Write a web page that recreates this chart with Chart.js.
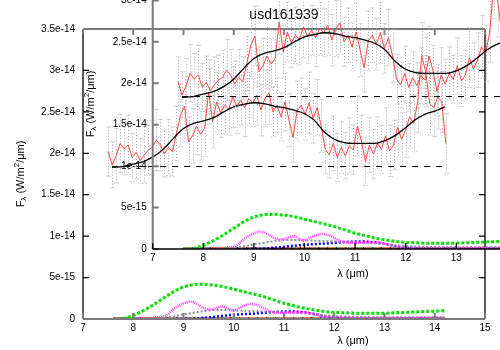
<!DOCTYPE html>
<html>
<head>
<meta charset="utf-8">
<script src="https://cdn.jsdelivr.net/npm/chart.js@4.4.0/dist/chart.umd.min.js"></script>
<style>
  html, body { margin: 0; padding: 0; background: #fff; }
  #wrap { position: relative; width: 500px; height: 350px; overflow: hidden; background: #fff; }
  #outer { position: absolute; left: 0; top: 0; }
  #inner { position: absolute; left: 0; top: -60px; }
</style>
</head>
<body>
<div id="wrap">
  <canvas id="outer" width="500" height="350"></canvas>
  <canvas id="inner" width="600" height="420"></canvas>
</div>
<script>
// flux values are in units of 1e-14 W/m2/um
const specLambda = [
  7.50, 7.58, 7.66, 7.74, 7.82, 7.90, 7.98, 8.06, 8.14, 8.22,
  8.30, 8.38, 8.46, 8.54, 8.62, 8.70, 8.78, 8.86, 8.94, 9.02,
  9.10, 9.18, 9.26, 9.34, 9.42, 9.50, 9.58, 9.66, 9.74, 9.82,
  9.90, 9.98, 10.06, 10.14, 10.22, 10.30, 10.38, 10.46, 10.54, 10.62,
  10.70, 10.78, 10.86, 10.94, 11.02, 11.10, 11.18, 11.26, 11.34, 11.42,
  11.50, 11.58, 11.66, 11.74, 11.82, 11.90, 11.98, 12.06, 12.14, 12.22,
  12.30, 12.38, 12.46, 12.54, 12.62, 12.70, 12.78, 12.86, 12.94, 13.02,
  13.10, 13.18, 13.26, 13.34, 13.42, 13.50, 13.58, 13.66, 13.74, 13.82,
  13.90, 13.98, 14.06, 14.14, 14.22
];
const flux = [
  2.02, 1.86, 1.97, 2.12, 2.05, 2.10, 1.95, 2.01, 1.91, 1.98,
  2.04, 2.07, 2.16, 2.10, 1.99, 2.07, 2.02, 2.24, 2.46, 2.57,
  2.14, 2.21, 2.33, 2.23, 2.30, 2.74, 2.38, 2.62, 2.49, 2.58,
  2.53, 2.68, 2.57, 2.64, 2.55, 2.66, 2.61, 2.70, 2.52, 2.66,
  2.73, 2.50, 2.58, 2.44, 2.62, 2.40, 2.19, 2.51, 2.58, 2.47,
  2.61, 2.42, 2.55, 2.33, 2.05, 1.98, 2.12, 1.95, 2.07, 1.97,
  2.09, 2.04, 2.33, 2.15, 1.90, 2.10, 1.99, 2.12, 2.05, 2.21,
  2.03, 2.10, 2.31, 2.17, 2.28, 2.44, 2.36, 2.62, 3.18, 2.98,
  2.60, 2.55, 2.68, 2.62, 2.12
];
const fluxErr = [
  0.30, 0.28, 0.33, 0.35, 0.31, 0.36, 0.29, 0.32, 0.27, 0.34,
  0.30, 0.33, 0.37, 0.31, 0.28, 0.34, 0.30, 0.33, 0.38, 0.36,
  0.30, 0.33, 0.35, 0.31, 0.34, 0.39, 0.32, 0.36, 0.30, 0.34,
  0.31, 0.37, 0.33, 0.30, 0.35, 0.32, 0.29, 0.36, 0.31, 0.34,
  0.38, 0.30, 0.33, 0.29, 0.35, 0.32, 0.30, 0.36, 0.33, 0.31,
  0.37, 0.30, 0.34, 0.32, 0.30, 0.28, 0.33, 0.29, 0.31, 0.28,
  0.34, 0.30, 0.36, 0.31, 0.29, 0.33, 0.30, 0.32, 0.29, 0.34,
  0.31, 0.30, 0.36, 0.32, 0.33, 0.38, 0.34, 0.37, 0.40, 0.42,
  0.38, 0.35, 0.39, 0.37, 0.36
];

const fitLambda = [
  7.58, 7.8, 8.0, 8.2, 8.4, 8.6, 8.8, 9.0, 9.2, 9.4, 9.6, 9.8,
  10.0, 10.2, 10.4, 10.6, 10.8, 11.0, 11.2, 11.4, 11.6, 11.8,
  12.0, 12.2, 12.4, 12.6, 12.8, 13.0, 13.2, 13.4, 13.6, 13.8, 14.0, 14.2
];
const fitFlux = [
  1.83, 1.84, 1.87, 1.90, 1.96, 2.05, 2.18, 2.30, 2.36, 2.39, 2.43, 2.50,
  2.56, 2.59, 2.61, 2.60, 2.57, 2.55, 2.52, 2.48, 2.40, 2.26,
  2.17, 2.13, 2.12, 2.12, 2.12, 2.15, 2.21, 2.30, 2.40, 2.47, 2.51, 2.56
];

const contLambda = [7.58, 14.2];
const contFlux = [1.84, 1.84];

const compLambda = [
  7.6, 7.8, 8.0, 8.2, 8.4, 8.6, 8.8, 9.0, 9.2, 9.4, 9.6, 9.8,
  10.0, 10.2, 10.4, 10.6, 10.8, 11.0, 11.2, 11.4, 11.6, 11.8,
  12.0, 12.2, 12.4, 12.6, 12.8, 13.0, 13.2, 13.4, 13.6, 13.8, 14.0, 14.2
];
const greenComp = [
  0.0, 0.005, 0.04, 0.10, 0.17, 0.25, 0.33, 0.39, 0.415, 0.42, 0.41, 0.39,
  0.36, 0.33, 0.30, 0.27, 0.23, 0.19, 0.16, 0.13, 0.11, 0.09,
  0.08, 0.075, 0.07, 0.07, 0.07, 0.07, 0.075, 0.08, 0.085, 0.09, 0.095, 0.10
];
const grayComp = [
  0.005, 0.005, 0.005, 0.005, 0.008, 0.015, 0.03, 0.055, 0.075, 0.095, 0.11, 0.11,
  0.105, 0.10, 0.095, 0.09, 0.085, 0.08, 0.075, 0.07, 0.055, 0.045,
  0.035, 0.03, 0.025, 0.025, 0.02, 0.02, 0.02, 0.02, 0.02, 0.02, 0.02, 0.02
];
const blueComp = [
  0, 0, 0, 0, 0, 0, 0, 0.002, 0.005, 0.015, 0.025, 0.04,
  0.05, 0.06, 0.065, 0.075, 0.085, 0.09, 0.09, 0.08, 0.06, 0.035,
  0.02, 0.012, 0.01, 0.01, 0.01, 0.01, 0.01, 0.01, 0.01, 0.01, 0.01, 0.01
];
const magLambda = [
  7.6, 8.0, 8.4, 8.6, 8.7, 8.8, 8.9, 9.0, 9.1, 9.2, 9.3, 9.4, 9.5,
  9.6, 9.7, 9.8, 9.9, 10.0, 10.1, 10.2, 10.3, 10.4, 10.5, 10.6, 10.7,
  10.8, 10.9, 11.0, 11.2, 11.4, 11.5, 11.6, 11.7, 11.8, 12.0, 12.5, 13.0, 13.5, 14.2
];
const magComp = [
  0.01, 0.01, 0.012, 0.03, 0.06, 0.12, 0.16, 0.19, 0.21, 0.205, 0.17, 0.13, 0.115,
  0.12, 0.14, 0.155, 0.12, 0.10, 0.13, 0.16, 0.18, 0.18, 0.16, 0.13, 0.10,
  0.08, 0.075, 0.075, 0.08, 0.085, 0.075, 0.06, 0.04, 0.025, 0.015, 0.012, 0.012, 0.012, 0.015
];
const baseLambda = [7.6, 14.2];
const orangeComp = [0.004, 0.004];
const cyanComp = [0.003, 0.003];
const blackComp = [0.002, 0.002];

const xTicks = [7, 8, 9, 10, 11, 12, 13, 14, 15];
const xTickLabels = ['7', '8', '9', '10', '11', '12', '13', '14', '15'];
const yTicks = [0, 0.5, 1, 1.5, 2, 2.5, 3, 3.5];
const yTickLabels = ['0', '5e-15', '1e-14', '1.5e-14', '2e-14', '2.5e-14', '3e-14', '3.5e-14'];

const FONT = '"Liberation Sans", Arial, Helvetica, sans-serif';

function line(xs, ys, color, width, dash, extra) {
  return Object.assign({
    data: xs.map((x, i) => ({ x: x, y: ys[i] })),
    borderColor: color,
    borderWidth: width,
    borderDash: dash,
    pointRadius: 0,
    fill: false,
    tension: 0
  }, extra || {});
}

// first dataset is drawn on top
function makeDatasets() {
  return [
    line(contLambda, contFlux, '#000', 1, [6, 6]),
    line(fitLambda, fitFlux, '#000', 1.3, [], { cubicInterpolationMode: 'monotone' }),
    line(specLambda, flux, '#ff4848', 1, [], { errors: fluxErr }),
    line(compLambda, greenComp, '#00e000', 3, [3, 2]),
    line(magLambda, magComp, '#ff3cff', 2.5, [1, 1]),
    line(compLambda, grayComp, '#8c8c8c', 2, [2, 2]),
    line(compLambda, blueComp, '#0000ff', 2.5, [2, 2]),
    line(baseLambda, blackComp, '#000', 3, [1, 8]),
    line(baseLambda, cyanComp, '#00c8c8', 3, [2, 9]),
    line(baseLambda, orangeComp, '#d9531e', 3, [])
  ];
}

function drawErrorBars(chart) {
  const ds = chart.data.datasets.find(d => d.errors);
  if (!ds) return;
  const ctx = chart.ctx;
  const xs = chart.scales.x, ys = chart.scales.y;
  ctx.save();
  ctx.strokeStyle = '#a8a8a8';
  ctx.lineWidth = 1;
  ctx.setLineDash([1, 2]);
  ds.data.forEach((p, i) => {
    const e = ds.errors[i];
    const px = Math.round(xs.getPixelForValue(p.x)) + 0.5;
    const top = ys.getPixelForValue(p.y + e);
    const bot = ys.getPixelForValue(p.y - e);
    ctx.beginPath();
    ctx.moveTo(px, top); ctx.lineTo(px, bot);
    ctx.moveTo(px - 2, top); ctx.lineTo(px + 2, top);
    ctx.moveTo(px - 2, bot); ctx.lineTo(px + 2, bot);
    ctx.stroke();
  });
  ctx.restore();
}

function drawYTitle(ctx, cx, cy) {
  const parts = [
    { t: 'F', size: 11, dy: 0 },
    { t: 'λ', size: 8, dy: 3 },
    { t: ' (W/m', size: 11, dy: 0 },
    { t: '2', size: 8, dy: -4 },
    { t: '/μm)', size: 11, dy: 0 }
  ];
  ctx.save();
  ctx.translate(cx, cy);
  ctx.rotate(-Math.PI / 2);
  ctx.fillStyle = '#000';
  ctx.textBaseline = 'middle';
  ctx.textAlign = 'left';
  let total = 0;
  parts.forEach(p => {
    ctx.font = p.size + 'px ' + FONT;
    p.w = ctx.measureText(p.t).width;
    total += p.w;
  });
  let x = -total / 2;
  parts.forEach(p => {
    ctx.font = p.size + 'px ' + FONT;
    ctx.fillText(p.t, x, p.dy);
    x += p.w;
  });
  ctx.restore();
}

function framePlugin(opts) {
  return {
    id: 'frame',
    beforeDatasetsDraw(chart) {
      drawErrorBars(chart);
    },
    afterDraw(chart) {
      const ctx = chart.ctx;
      const a = chart.chartArea;
      const xs = chart.scales.x, ys = chart.scales.y;
      ctx.save();
      ctx.setLineDash([]);
      Object.keys(opts.sides).forEach(side => {
        const s = opts.sides[side];
        ctx.strokeStyle = s.color;
        ctx.lineWidth = s.width;
        ctx.beginPath();
        if (side === 'left' || side === 'right') {
          const x0 = side === 'left' ? a.left : a.right;
          const dir = side === 'left' ? 1 : -1;
          ctx.moveTo(x0, a.top); ctx.lineTo(x0, a.bottom);
          yTicks.forEach(v => {
            const py = ys.getPixelForValue(v);
            ctx.moveTo(x0, py); ctx.lineTo(x0 + dir * 6, py);
          });
        } else {
          const y0 = side === 'bottom' ? a.bottom : a.top;
          const dir = side === 'bottom' ? -1 : 1;
          ctx.moveTo(a.left, y0); ctx.lineTo(a.right, y0);
          xTicks.forEach(v => {
            const px = xs.getPixelForValue(v);
            ctx.moveTo(px, y0); ctx.lineTo(px, y0 + dir * 6);
          });
        }
        ctx.stroke();
      });

      drawYTitle(ctx, a.left - 62, (a.top + a.bottom) / 2);

      ctx.fillStyle = '#000';
      ctx.textAlign = 'center';
      ctx.textBaseline = 'middle';
      ctx.font = '11px ' + FONT;
      ctx.fillText('λ (μm)', opts.xTitle.x, opts.xTitle.y);
      if (opts.title) {
        ctx.font = '14px ' + FONT;
        ctx.fillText(opts.title.text, opts.title.x, opts.title.y);
      }
      ctx.restore();
    }
  };
}

function makeChart(canvas, geo, opts) {
  return new Chart(canvas, {
    type: 'line',
    data: { datasets: makeDatasets() },
    options: {
      responsive: false,
      animation: false,
      devicePixelRatio: 1,
      layout: { padding: { left: 0, top: geo.top, right: geo.right, bottom: 0 } },
      plugins: { legend: { display: false }, tooltip: { enabled: false }, title: { display: false } },
      scales: {
        x: {
          type: 'linear', min: 7, max: 15,
          afterBuildTicks: s => { s.ticks = xTicks.map(v => ({ value: v })); },
          afterFit: s => { s.height = geo.xHeight; },
          ticks: {
            callback: (v, i) => xTickLabels[i],
            font: { family: FONT, size: 10 }, color: '#000',
            padding: 3, maxRotation: 0, autoSkip: false
          },
          grid: { display: false, drawTicks: false },
          border: { display: false }
        },
        y: {
          type: 'linear', min: 0, max: 3.5,
          afterBuildTicks: s => { s.ticks = yTicks.map(v => ({ value: v })); },
          afterFit: s => { s.width = geo.yWidth; },
          ticks: {
            callback: (v, i) => yTickLabels[i],
            font: { family: FONT, size: 10 }, color: '#000',
            padding: geo.yPad, autoSkip: false
          },
          grid: { display: false, drawTicks: false },
          border: { display: false }
        }
      }
    },
    plugins: [framePlugin(opts)]
  });
}

document.addEventListener('DOMContentLoaded', () => {
  makeChart(document.getElementById('outer'),
    { top: 29, right: 15, xHeight: 31, yWidth: 83, yPad: 8 },
    {
      sides: {
        left: { color: '#000', width: 1.3 },
        right: { color: '#000', width: 1.3 },
        top: { color: '#7a7a7a', width: 2 },
        bottom: { color: '#7a7a7a', width: 2 }
      },
      xTitle: { x: 353, y: 341 },
      title: { text: 'usd161939', x: 284, y: 15 }
    });

  makeChart(document.getElementById('inner'),
    { top: 19, right: 42.5, xHeight: 111, yWidth: 152.7, yPad: 6 },
    {
      sides: {
        left: { color: '#7a7a7a', width: 2 },
        bottom: { color: '#000', width: 1.3 }
      },
      xTitle: { x: 353, y: 334 }
    });
});
</script>
</body>
</html>
